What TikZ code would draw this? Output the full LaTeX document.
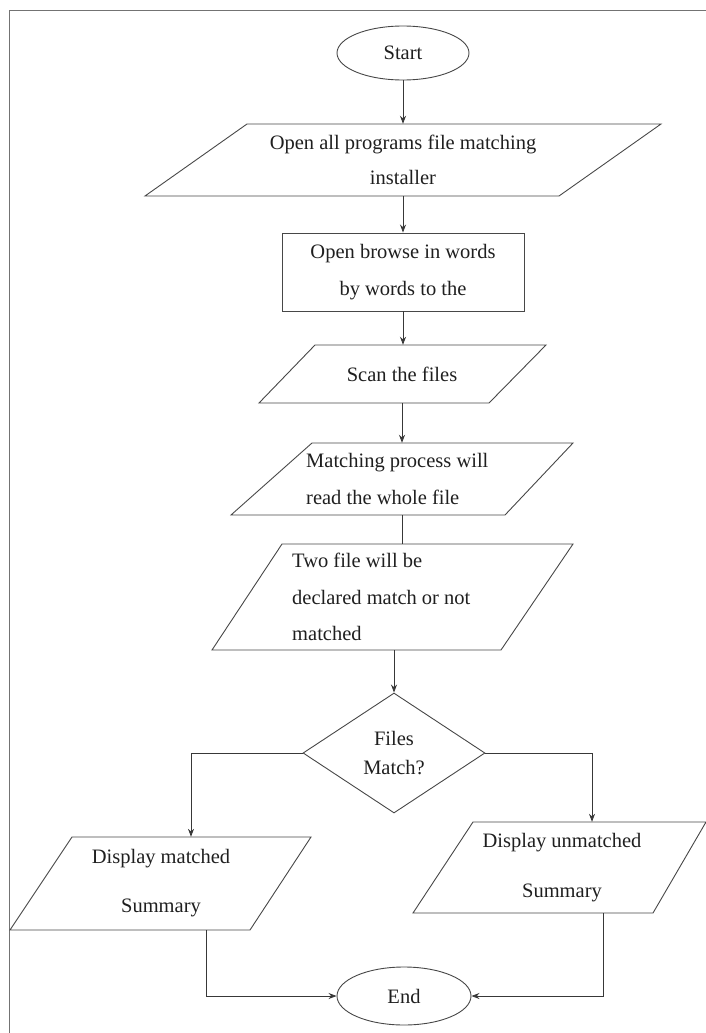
\documentclass[tikz,border=0pt]{standalone}
\usepackage{fontspec}
\setmainfont{Liberation Serif}
\usetikzlibrary{shapes.geometric,arrows.meta}
\tikzset{
  shp/.style={draw=black!72, line width=0.9pt},
  conn/.style={draw=black!78, line width=0.8pt},
  arr/.style={conn, -{Stealth[length=8pt,width=6pt]}},
  box/.style={inner sep=0pt, text=black!88, font=\fontsize{20.5}{#1}\selectfont},
  box/.default=36,
  term/.style={box, ellipse, shp, inner sep=0pt},
}
\begin{document}
\begin{tikzpicture}[x=1pt,y=-1pt]
\useasboundingbox (0,0) rectangle (706,1033);
% frame
\draw[draw=black!55, line width=0.9pt] (706,10) -- (9,10) -- (9,1033);

% start
\node[term, minimum width=132pt, minimum height=54pt] (start) at (403,53) {Start};

% p1
\draw[shp] (247,124) -- (661,124) -- (559,196) -- (145,196) -- cycle;
\node[box=35, align=center, minimum height=72pt] (p1) at (403,160) {Open all programs file matching\\installer};

% r2
\node[box=37, shp, align=center, minimum width=242pt, minimum height=78pt] (r2) at (403,272) {Open browse in words\\by words to the};

% p3
\draw[shp] (315,345) -- (546,345) -- (489,403) -- (259,403) -- cycle;
\node[box, align=center, minimum height=58pt] (p3) at (402,374) {Scan the files};

% p4
\draw[shp] (312,443) -- (573,443) -- (505,515) -- (231,515) -- cycle;
\node[box=37, align=left, anchor=west, minimum height=72pt] (p4) at (306,479) {Matching process will\\read the whole file};

% p5
\draw[shp] (282,544) -- (573,544) -- (501,650) -- (212,650) -- cycle;
\node[box=36.5, align=left, anchor=west, minimum height=106pt] (p5) at (292,597) {Two file will be\\declared match or not\\matched};

% decision
\node[box=29, shp, diamond, align=center, minimum width=182pt, minimum height=120pt] (d) at (394,753) {Files\\Match?};

% p6
\draw[shp] (72,837) -- (311,837) -- (250,930) -- (10,930) -- cycle;
\node[box=49, align=center, minimum height=93pt] (p6) at (161,883.5) {Display matched\\Summary};

% p7
\draw[shp] (473,822) -- (706,822) -- (653,913) -- (413,913) -- cycle;
\node[box=50, align=center, minimum height=91pt] (p7) at (562,867.5) {Display unmatched\\Summary};

% end
\node[term, minimum width=134pt, minimum height=58pt] (end) at (404,996) {End};

% connectors
\draw[arr] (start.south) -- (p1.north);
\draw[arr] (p1.south) -- (r2.north);
\draw[arr] (r2.south) -- (r2.south |- p3.north);
\draw[arr] (p3.south) -- (p3.south |- p4.north);
\draw[conn] (p3.south |- p4.south) -- (p3.south |- p5.north);
\draw[arr] (d.north |- p5.south) -- (d.north);
\draw[arr] (d.west) -| ([xshift=30pt]p6.north);
\draw[arr] (d.east) -| ([xshift=30pt]p7.north);
\draw[arr] ([xshift=45pt]p6.south) |- (end.west);
\draw[arr] ([xshift=41pt]p7.south) |- (end.east);
\end{tikzpicture}
\end{document}
